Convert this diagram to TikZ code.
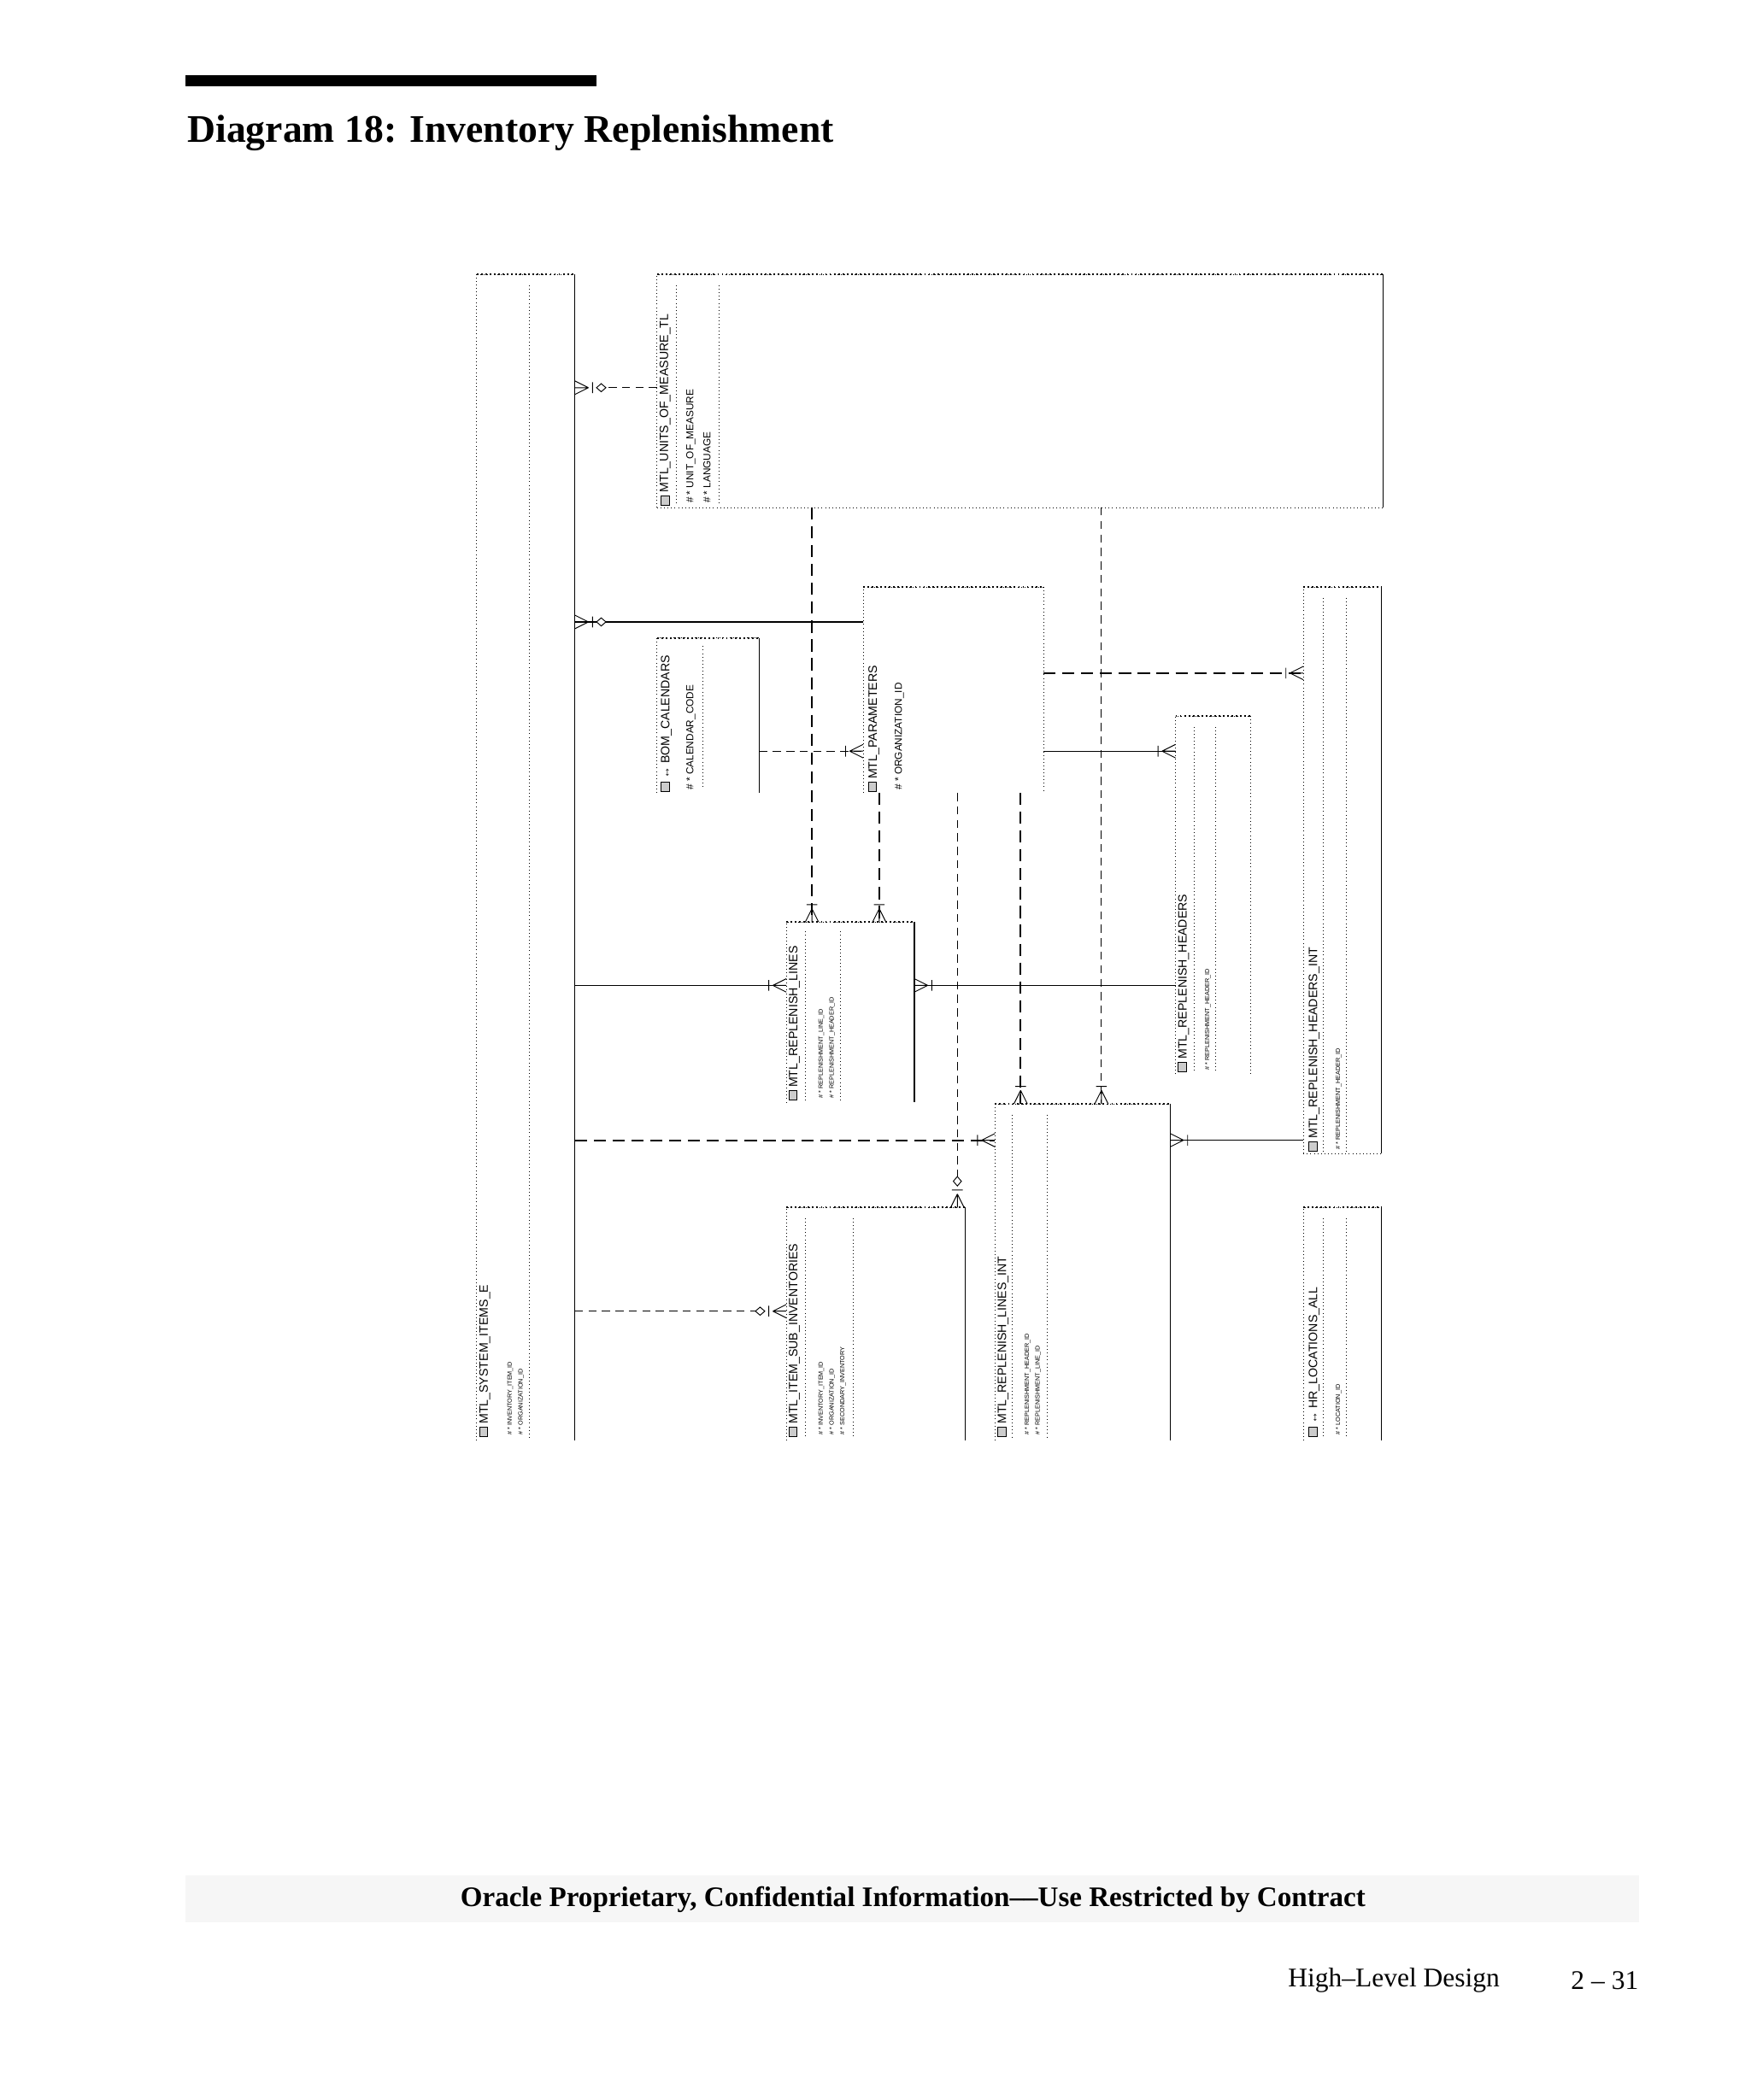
\documentclass[tikz,border=0pt]{standalone}
\usepackage{fontspec}
\usetikzlibrary{calc}
\setmainfont{Liberation Serif}
\setsansfont{Liberation Sans}
\begin{document}
\begin{tikzpicture}[x=1pt,y=-1pt,
  dotb/.style={line width=0.6pt,dotted},
  solb/.style={line width=0.8pt},
  thind/.style={line width=0.6pt,dash pattern=on 6pt off 4pt},
  thickd/.style={line width=1.3pt,dash pattern=on 9pt off 5pt},
  soll/.style={line width=0.7pt},
  nm/.style={font=\sffamily\fontsize{9}{9}\selectfont,rotate=90,anchor=west,inner sep=0pt},
  at1/.style={font=\sffamily\fontsize{7.5}{7.5}\selectfont,rotate=90,anchor=west,inner sep=0pt},
  at2/.style={font=\sffamily\fontsize{4.6}{4.6}\selectfont,rotate=90,anchor=west,inner sep=0pt}]
\useasboundingbox (0,0) rectangle (1300,1560);
\fill[white] (0,0) rectangle (1300,1560);
% header
\fill[black] (138,56) rectangle (443,64);
\node[anchor=west,font=\bfseries\fontsize{29}{29}\selectfont,inner sep=0pt] (title) at (139,99) {Diagram 18: Inventory Replenishment};
\newcommand\erbox[5]{%
  \draw[dotb] (#1,#4) -- (#1,#2) -- (#3,#2);
  \draw[line width=1.2pt,dotted] (#1,#2) -- (#3,#2);
  \ifx#51\draw[solb] (#3,#2) -- (#3,#4);\else\draw[dotb] (#3,#2) -- (#3,#4);\fi}
\newcommand\sep[3]{\draw[dotb] (#1,#2) -- (#1,#3);}
\newcommand\icon[2]{\draw[line width=0.4pt,fill=gray!40] (#1-3,#2) rectangle (#1+3,#2-7);}
% MTL_SYSTEM_ITEMS_E
\erbox{354}{204}{427}{1070}{1}
\sep{393}{212}{1068}
\icon{359}{1067}
\node[nm] (sys) at (360,1058) {MTL\_SYSTEM\_ITEMS\_E};
\node[at2] at (379,1066) {\# * INVENTORY\_ITEM\_ID};
\node[at2] at (387,1066) {\# * ORGANIZATION\_ID};
% UOM
\erbox{488}{204}{1027}{377}{1}
\draw[dotb] (488,377) -- (1027,377);
\sep{502}{212}{375}\sep{534}{212}{375}
\icon{494}{375}
\node[nm] (uom) at (494,366) {MTL\_UNITS\_OF\_MEASURE\_TL};
\node[at1] at (513,374) {\# * UNIT\_OF\_MEASURE};
\node[at1] at (525,374) {\# * LANGUAGE};
% PARAMETERS
\erbox{641}{436}{775}{589}{0}
\icon{648}{588}
\node[nm] (par) at (649,579) {MTL\_PARAMETERS};
\node[at1] at (668,587) {\# * ORGANIZATION\_ID};
% BOM_CALENDARS
\erbox{488}{474}{564}{589}{1}
\sep{522}{480}{586}
\icon{494}{588}
\node[nm] (bom) at (495,579) {\textbf{↔} BOM\_CALENDARS};
\node[at1] at (513,587) {\# * CALENDAR\_CODE};
% HEADERS_INT
\erbox{968}{436}{1026}{857}{1}
\draw[dotb] (968,857) -- (1026,857);
\sep{983}{444}{855}\sep{1000}{444}{855}
\icon{975}{855}
\node[nm] (hint) at (976,846) {MTL\_REPLENISH\_HEADERS\_INT};
\node[at2] at (994,854) {\# * REPLENISHMENT\_HEADER\_ID};
% HEADERS
\erbox{873}{532}{929}{798}{0}
\sep{887}{540}{796}\sep{903}{540}{796}
\icon{878}{796}
\node[nm] (hdr) at (879,787) {MTL\_REPLENISH\_HEADERS};
\node[at2] at (897,795) {\# * REPLENISHMENT\_HEADER\_ID};
% LINES
\erbox{584}{685}{679}{819}{1}
\sep{598}{692}{817}\sep{624}{692}{817}
\icon{589}{817}
\node[nm] (lin) at (590,808) {MTL\_REPLENISH\_LINES};
\node[at2] at (610,816) {\# * REPLENISHMENT\_LINE\_ID};
\node[at2] at (618,816) {\# * REPLENISHMENT\_HEADER\_ID};
% LINES_INT
\erbox{739}{820}{869}{1070}{1}
\sep{752}{828}{1068}\sep{778}{828}{1068}
\icon{744}{1067}
\node[nm] (lint) at (745,1058) {MTL\_REPLENISH\_LINES\_INT};
\node[at2] at (763,1066) {\# * REPLENISHMENT\_HEADER\_ID};
\node[at2] at (771,1066) {\# * REPLENISHMENT\_LINE\_ID};
% SUB_INVENTORIES
\erbox{584}{897}{717}{1070}{1}
\sep{598}{905}{1068}\sep{634}{905}{1068}
\icon{589}{1067}
\node[nm] (sub) at (590,1058) {MTL\_ITEM\_SUB\_INVENTORIES};
\node[at2] at (610,1066) {\# * INVENTORY\_ITEM\_ID};
\node[at2] at (618,1066) {\# * ORGANIZATION\_ID};
\node[at2] at (626,1066) {\# * SECONDARY\_INVENTORY};
% HR_LOCATIONS_ALL
\erbox{968}{897}{1026}{1070}{1}
\sep{983}{905}{1068}\sep{1000}{905}{1068}
\icon{975}{1067}
\node[nm] (hr) at (976,1058) {\textbf{↔} HR\_LOCATIONS\_ALL};
\node[at2] at (994,1066) {\# * LOCATION\_ID};
% crow's feet
\newcommand\crow[3]{\begin{scope}[shift={(#1,#2)},rotate=#3]
  \draw[line width=0.6pt] (-10,0)--(0,5) (-10,0)--(0,-5) (-10,0)--(0,0) (-13,-4)--(-13,4);\end{scope}}
\newcommand\diam[3]{\begin{scope}[shift={(#1,#2)},rotate=#3]
  \draw[line width=0.6pt,fill=white] (-16,0)--(-19.5,3)--(-23,0)--(-19.5,-3)--cycle;\end{scope}}
% connectors
\coordinate (a1) at (427,288); \coordinate (b1) at (488,288);
\draw[thind] (b1) -- ($(a1)+(23,0)$); \crow{427}{288}{180}\diam{427}{288}{180}
\coordinate (a2) at (427,462); \coordinate (b2) at (641,462);
\draw[soll] (a2) -- (b2); \crow{427}{462}{180}\diam{427}{462}{180}
\coordinate (a3) at (564,558); \coordinate (b3) at (641,558);
\draw[thind] (a3) -- (b3); \crow{641}{558}{0}
\coordinate (a4) at (775,500); \coordinate (b4) at (968,500);
\draw[thickd] (a4) -- (b4); \crow{968}{500}{0}
\coordinate (a5) at (775,558); \coordinate (b5) at (873,558);
\draw[soll] (a5) -- (b5); \crow{873}{558}{0}
\coordinate (a6) at (603,377); \coordinate (b6) at (603,685);
\draw[thickd] (a6) -- (b6); \crow{603}{685}{-90}
\coordinate (a7) at (653,589); \coordinate (b7) at (653,685);
\draw[thickd] (a7) -- (b7); \crow{653}{685}{-90}
\coordinate (a8) at (818,377); \coordinate (b8) at (818,820);
\draw[thind] (a8) -- (b8); \crow{818}{820}{-90}
\coordinate (a9) at (758,589); \coordinate (b9) at (758,820);
\draw[thickd] (a9) -- (b9); \crow{758}{820}{-90}
\coordinate (a10) at (711,589); \coordinate (b10) at (711,897);
\draw[thind] (a10) -- ($(b10)+(0,-23)$); \crow{711}{897}{-90}\diam{711}{897}{-90}
\coordinate (a11) at (427,732); \coordinate (b11) at (584,732);
\draw[soll] (a11) -- (b11); \crow{584}{732}{0}
\coordinate (a12) at (679,732); \coordinate (b12) at (873,732);
\draw[soll] (a12) -- (b12); \crow{679}{732}{180}
\coordinate (a13) at (427,847); \coordinate (b13) at (739,847);
\draw[thickd] (a13) -- (b13); \crow{739}{847}{0}
\coordinate (a14) at (869,847); \coordinate (b14) at (968,847);
\draw[line width=1pt] (a14) -- (b14); \crow{869}{847}{180}
\coordinate (a15) at (427,974); \coordinate (b15) at (584,974);
\draw[thind] (a15) -- ($(b15)+(-23,0)$); \crow{584}{974}{0}\diam{584}{974}{0}
% footer
\fill[gray!7] (138,1393) rectangle (1217,1428);
\node[font=\bfseries\fontsize{21}{21}\selectfont,inner sep=0pt] (foot) at (678,1411) {Oracle Proprietary, Confidential Information––Use Restricted by Contract};
\node[anchor=east,font=\fontsize{20}{20}\selectfont,inner sep=0pt] (sec) at (1114,1471) {High–Level Design};
\node[anchor=east,font=\fontsize{20}{20}\selectfont,inner sep=0pt] (pg) at (1217,1471) {2 – 31};
\end{tikzpicture}
\end{document}
